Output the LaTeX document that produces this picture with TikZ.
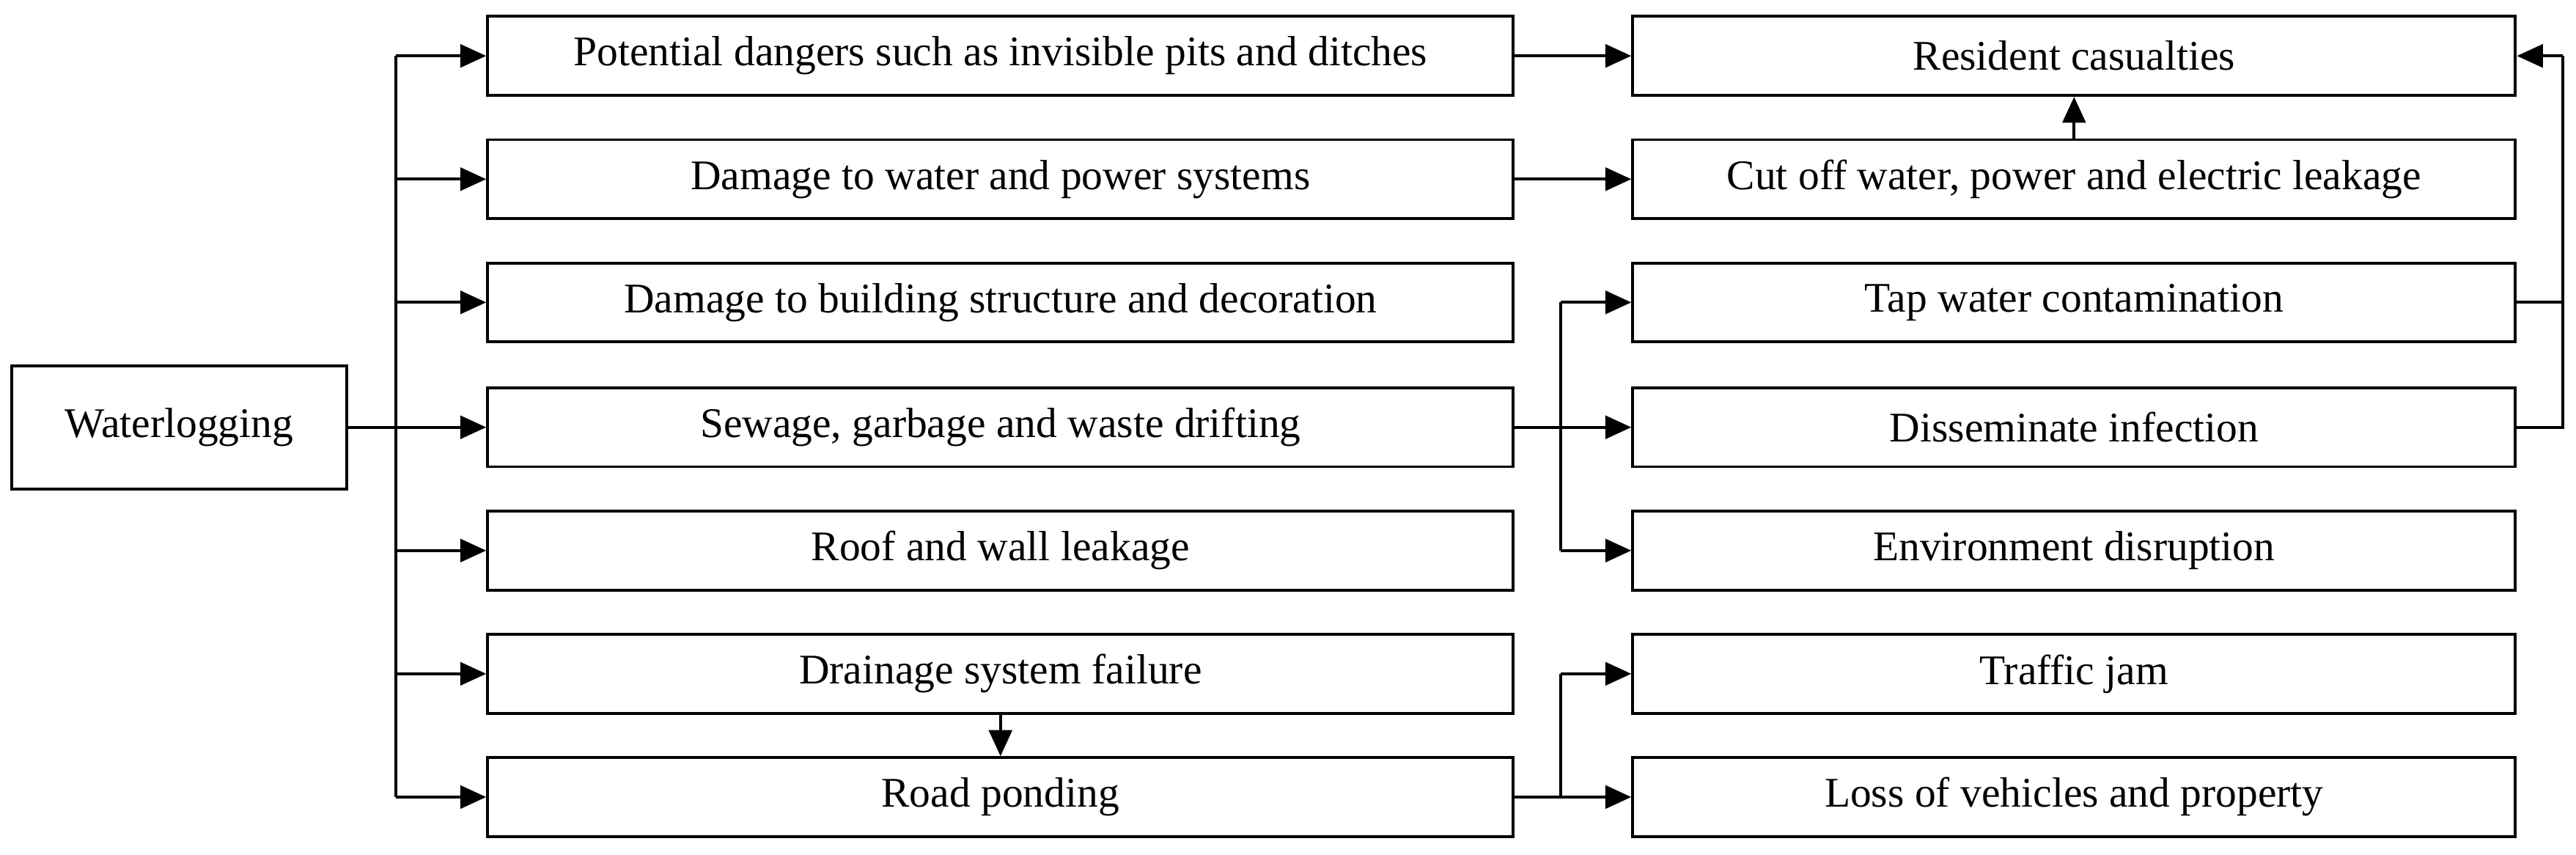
\documentclass[tikz,border=0pt]{standalone}
\usepackage{fontspec}
\setmainfont{Liberation Serif}
\usetikzlibrary{arrows.meta}
\begin{document}
\begin{tikzpicture}[x=0.01cm,y=-0.01cm,
 box/.style={draw,line width=0.5pt,minimum height=0.48cm,inner sep=0pt,font=\fontsize{7.3pt}{8pt}\selectfont},
 mid/.style={box,minimum width=6.24cm},
 rgt/.style={box,minimum width=5.37cm},
 ar/.style={-{Triangle[length=4.5pt,width=4pt]},line width=0.5pt},
 ln/.style={line width=0.5pt}]
\useasboundingbox (0,0) rectangle (1568,520);
\node[box,minimum width=2.04cm,minimum height=0.75cm] (w) at (109,260) {Waterlogging};
\node[mid] (m1) at (609,34) {Potential dangers such as invisible pits and ditches};
\node[mid] (m2) at (609,109) {Damage to water and power systems};
\node[mid] (m3) at (609,184) {Damage to building structure and decoration};
\node[mid] (m4) at (609,260) {Sewage, garbage and waste drifting};
\node[mid] (m5) at (609,335) {Roof and wall leakage};
\node[mid] (m6) at (609,410) {Drainage system failure};
\node[mid] (m7) at (609,485) {Road ponding};
\node[rgt] (r1) at (1262.5,34) {Resident casualties};
\node[rgt] (r2) at (1262.5,109) {Cut off water, power and electric leakage};
\node[rgt] (r3) at (1262.5,184) {Tap water contamination};
\node[rgt] (r4) at (1262.5,260) {Disseminate infection};
\node[rgt] (r5) at (1262.5,335) {Environment disruption};
\node[rgt] (r6) at (1262.5,410) {Traffic jam};
\node[rgt] (r7) at (1262.5,485) {Loss of vehicles and property};
\coordinate (b1) at (241,260);
\draw[ln] (w.east) -- (b1);
\draw[ln] (241,34) -- (241,485);
\foreach \i/\y in {1/34,2/109,3/184,4/260,5/335,6/410,7/485}
  \draw[ar] (241,\y) -- (m\i.west);
\draw[ar] (m1) -- (r1);
\draw[ar] (m2) -- (r2);
\draw[ar] (r2) -- (r1);
\draw[ar] (m6) -- (m7);
\coordinate (b2) at (950,260);
\draw[ln] (m4.east) -- (b2);
\draw[ln] (950,184) -- (950,335);
\draw[ar] (950,184) -- (r3.west);
\draw[ar] (b2) -- (r4.west);
\draw[ar] (950,335) -- (r5.west);
\coordinate (b3) at (950,485);
\draw[ln] (m7.east) -- (b3);
\draw[ln] (950,410) -- (b3);
\draw[ar] (950,410) -- (r6.west);
\draw[ar] (b3) -- (r7.west);
\coordinate (c1) at (1560,260);
\coordinate (c2) at (1560,184);
\coordinate (c3) at (1560,34);
\draw[ln] (r4.east) -- (c1) -- (c3);
\draw[ln] (r3.east) -- (c2);
\draw[ar] (c3) -- (r1.east);
\end{tikzpicture}
\end{document}
